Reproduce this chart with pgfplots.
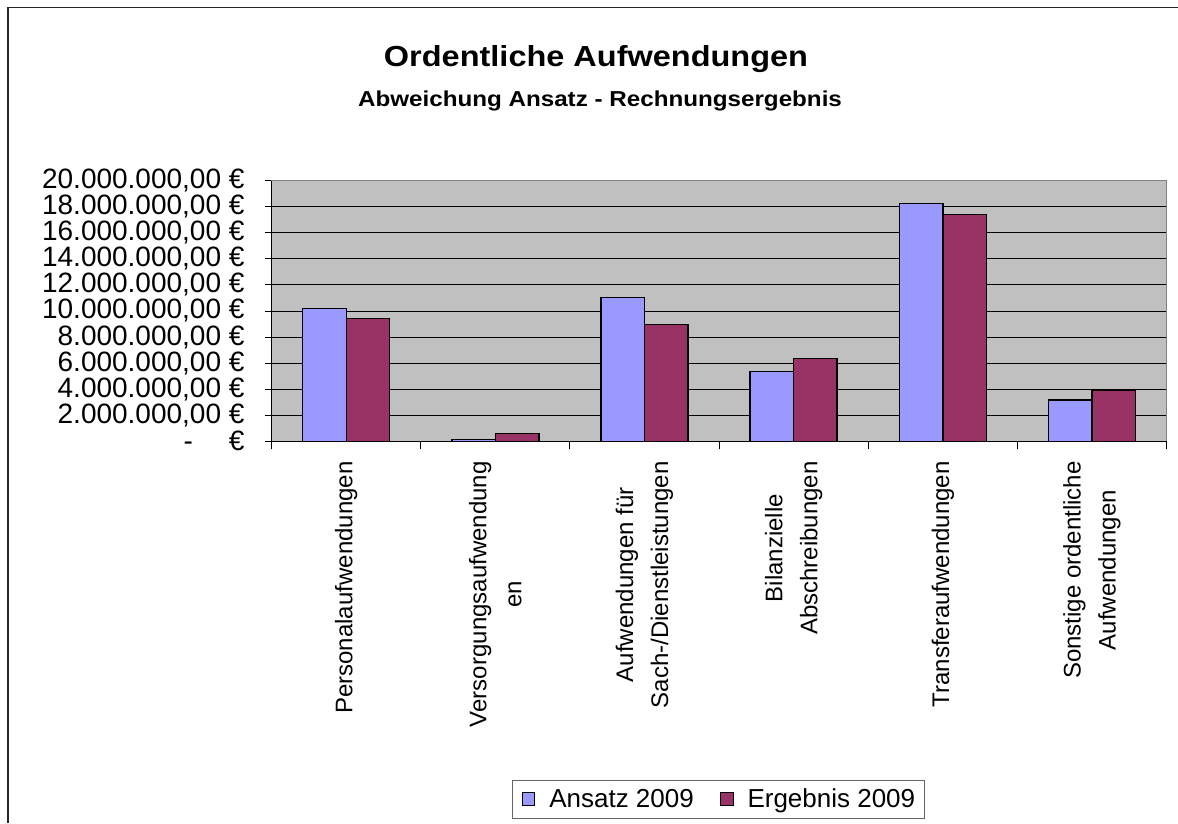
\documentclass[border=0pt]{standalone}
\usepackage{pgfplots}
\pgfplotsset{compat=1.18}
\usepackage{fontspec}
\setmainfont{Liberation Sans}
\newfontfamily\titlefont{Liberation Sans}[FakeStretch=1.12]
\definecolor{ansatz}{RGB}{153,153,255}
\definecolor{ergebnis}{RGB}{153,51,102}
\definecolor{plotbg}{RGB}{192,192,192}
\begin{document}
\begin{tikzpicture}[x=1pt,y=1pt]
\useasboundingbox (0,0) rectangle (1178,823);
\draw[line width=1.5pt, black!85] (8,0) -- (8,815.5) -- (1178,815.5);
\node[font=\titlefont\bfseries\fontsize{29}{34}\selectfont, anchor=base, inner sep=0pt] at (596,756) {Ordentliche Aufwendungen};
\node[font=\titlefont\bfseries\fontsize{21.6}{25}\selectfont, anchor=base, inner sep=0pt] at (600,716) {Abweichung Ansatz - Rechnungsergebnis};
\begin{axis}[
  at={(271.7pt,381.7pt)}, anchor=south west,
  scale only axis, width=894.8pt, height=260.6pt,
  xmin=-0.5, xmax=5.5, ymin=0, ymax=20000000,
  ybar=0pt, bar width=43.5pt,
  axis background/.style={fill=plotbg},
  axis line style={draw=gray, line width=1.2pt},
  ymajorgrids, major grid style={black, line width=1pt},
  scaled y ticks=false,
  ytick={0,2000000,4000000,6000000,8000000,10000000,12000000,14000000,16000000,18000000,20000000},
  yticklabels={{-\hspace{36pt}€},{2.000.000,00 €},{4.000.000,00 €},{6.000.000,00 €},{8.000.000,00 €},{10.000.000,00 €},{12.000.000,00 €},{14.000.000,00 €},{16.000.000,00 €},{18.000.000,00 €},{20.000.000,00 €}},
  xtick={0,1,2,3,4,5},
  xticklabels={{Personalaufwendungen},{Versorgungsaufwendung\\en},{Aufwendungen für\\Sach-/Dienstleistungen},{Bilanzielle\\Abschreibungen},{Transferaufwendungen},{Sonstige ordentliche\\Aufwendungen}},
  minor xtick={-0.5,0.5,1.5,2.5,3.5,4.5,5.5},
  xtick pos=bottom, ytick pos=left,
  tick align=outside,
  major tick length=7pt, minor tick length=8pt,
  major x tick style={draw=none},
  minor x tick style={black, line width=1pt},
  y tick style={black, line width=1pt},
  yticklabel style={font=\fontsize{28}{32}\selectfont, anchor=east, inner sep=0pt},
  yticklabel shift=20pt,
  xticklabel style={rotate=90, anchor=east, align=center, font=\fontsize{24}{35}\selectfont, inner sep=0pt},
  xticklabel shift=13pt,
  legend style={at={(0.4992,-1.3734)}, anchor=center, legend columns=-1,
    draw=black!60, line width=1pt, font=\fontsize{26}{30}\selectfont,
    inner xsep=9pt, inner ysep=9pt,
    nodes={inner sep=0pt},
    /tikz/every odd column/.append style={column sep=14pt},
    /tikz/every even column/.append style={column sep=26pt}},
  legend image code/.code={\draw[#1,draw=black,line width=1pt] (0pt,-6.35pt) rectangle (12.7pt,6.35pt);},
  after end axis/.code={\draw[black,line width=1.2pt] (rel axis cs:0,1) -- (rel axis cs:0,0) -- (rel axis cs:1,0);},
]
\addplot[fill=ansatz, draw=black, line width=1.4pt] coordinates {(0,10180000) (1,120000) (2,11020000) (3,5370000) (4,18260000) (5,3170000)};
\addplot[fill=ergebnis, draw=black, line width=1.4pt] coordinates {(0,9440000) (1,590000) (2,8950000) (3,6340000) (4,17420000) (5,3880000)};
\legend{Ansatz 2009, Ergebnis 2009}
\end{axis}
\end{tikzpicture}
\end{document}
